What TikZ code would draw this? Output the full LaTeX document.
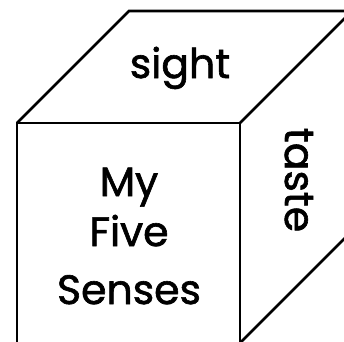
\documentclass[tikz,border=0pt]{standalone}
\usepackage{fontspec}
\setmainfont{Poppins}[FakeBold=1.5]
\begin{document}
\begin{tikzpicture}[x=1pt,y=-1pt,line width=2.8pt,line join=miter,
  facelabel/.style={font=\fontsize{41}{54}\selectfont,inner sep=0pt,align=center}]
\useasboundingbox (0,0) rectangle (344,341);
\clip (0,0) rectangle (344,341);
% corners of the cube
\coordinate (fl) at (17,123);
\coordinate (fr) at (240,123);
\coordinate (br) at (240,343);
\coordinate (bl) at (17,343);
\coordinate (tl) at (129,11);
\coordinate (tr) at (352,11);
\coordinate (rb) at (352,231);
% edges
\draw (bl) -- (fl) -- (fr) -- (br);
\draw (fl) -- (tl) -- (tr) -- (fr);
\draw (br) -- (rb) -- (tr);
% labels on the faces
\node[facelabel] (front) at (129,236) {My\\[-4pt]Five\\[4pt]Senses};
\node[facelabel,anchor=base] (top) at (180,78) {sight};
\node[facelabel,anchor=base,rotate=-90] (side) at (285,180) {taste};
\end{tikzpicture}
\end{document}
